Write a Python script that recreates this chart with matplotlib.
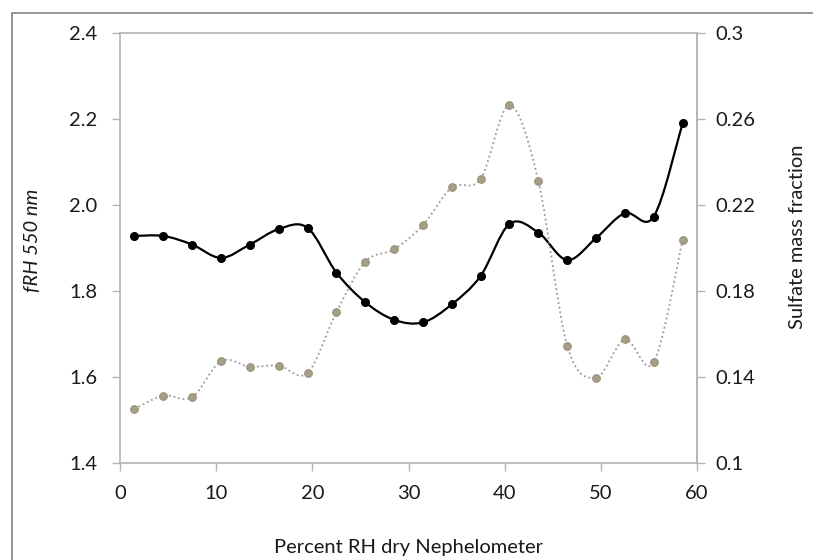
import numpy as np
import matplotlib.pyplot as plt
from matplotlib.path import Path
from matplotlib.patches import PathPatch, Rectangle

# data
rh = [1.5, 4.5, 7.5, 10.5, 13.5, 16.5, 19.5, 22.5, 25.5, 28.5,
      31.5, 34.5, 37.5, 40.5, 43.5, 46.5, 49.5, 52.5, 55.5, 58.5]
frh = [1.928, 1.928, 1.908, 1.877, 1.908, 1.944, 1.947, 1.843, 1.774, 1.733,
       1.727, 1.769, 1.835, 1.956, 1.936, 1.872, 1.923, 1.981, 1.973, 2.190]
sulfate = [0.1251, 0.1313, 0.1306, 0.1474, 0.1448, 0.1453, 0.1419, 0.1701, 0.1936, 0.1994,
           0.2106, 0.2282, 0.2321, 0.2664, 0.2312, 0.1546, 0.1397, 0.1575, 0.1468, 0.2036]

left_ticks = [1.4, 1.6, 1.8, 2.0, 2.2, 2.4]
right_ticks = [0.1, 0.14, 0.18, 0.22, 0.26, 0.3]
right_labels = ['0.1', '0.14', '0.18', '0.22', '0.26', '0.3']
x_ticks = [0, 10, 20, 30, 40, 50, 60]

FONT = 'Lato'
FS = 14.5
plt.rcParams['font.family'] = [FONT, 'DejaVu Sans']
spine_col = '#b4b4b4'
text_col = '#1a1a1a'


def smooth_path(x, y):
    # excel style smoothed line as cubic bezier segments through the points
    x = np.asarray(x, float)
    y = np.asarray(y, float)
    n = len(x)
    verts = [(x[0], y[0])]
    codes = [Path.MOVETO]
    for i in range(n - 1):
        p0 = np.array([x[max(i - 1, 0)], y[max(i - 1, 0)]])
        p1 = np.array([x[i], y[i]])
        p2 = np.array([x[i + 1], y[i + 1]])
        p3 = np.array([x[min(i + 2, n - 1)], y[min(i + 2, n - 1)]])
        c1 = p1 + (p2 - p0) / 6.0
        c2 = p2 - (p3 - p1) / 6.0
        verts += [tuple(c1), tuple(c2), tuple(p2)]
        codes += [Path.CURVE4] * 3
    return Path(verts, codes)


fig = plt.figure(figsize=(8.13, 5.6), dpi=100)
ax = fig.add_axes([120 / 813, 97 / 560, 577 / 813, 430 / 560])
ax2 = ax.twinx()

# black fRH line, left axis
ax.add_patch(PathPatch(smooth_path(rh, frh), facecolor='none', edgecolor='black',
                       lw=1.6, zorder=2))
ax.plot(rh, frh, ls='none', marker='o', ms=5.5, color='black', zorder=3)

# grey sulfate line, right axis
ax2.add_patch(PathPatch(smooth_path(rh, sulfate), facecolor='none', edgecolor='#9a9a9a',
                        lw=1.3, ls=(0, (1, 1.6)), zorder=2))
ax2.plot(rh, sulfate, ls='none', marker='o', ms=5.5, markerfacecolor='#a59f86',
         markeredgecolor='#99937a', markeredgewidth=0.8, zorder=3)

ax.set_xlim(0, 60)
ax.set_ylim(1.4, 2.4)
ax2.set_ylim(0.1, 0.3)

ax.set_xticks(x_ticks)
ax.set_yticks(left_ticks)
ax.set_yticklabels([f'{v:.1f}' for v in left_ticks])
ax2.set_yticks(right_ticks)
ax2.set_yticklabels(right_labels)

for a in (ax, ax2):
    for s in a.spines.values():
        s.set_color(spine_col)
        s.set_linewidth(1.2)
ax2.spines['left'].set_visible(False)
ax2.spines['bottom'].set_visible(False)
ax2.spines['top'].set_visible(False)

ax.tick_params(axis='y', direction='out', length=5.5, width=1.0, color=spine_col,
               labelsize=FS, labelcolor=text_col, pad=11)
ax.tick_params(axis='x', direction='out', length=6, width=1.0, color=spine_col,
               labelsize=FS, labelcolor=text_col, pad=10)
ax2.tick_params(axis='y', direction='out', length=5.5, width=1.0, color=spine_col,
                labelsize=FS, labelcolor=text_col, pad=8)

ax.set_xlabel('Percent RH dry Nephelometer', fontsize=FS, color=text_col, va='center')
ax.xaxis.set_label_coords(0.5, (463 - 547) / 430)
ax.set_ylabel('fRH 550 nm', fontsize=FS, color=text_col, style='italic',
              va='center', ha='center')
ax.yaxis.set_label_coords((33 - 120) / 577, (463 - 240) / 430)
ax2.set_ylabel('Sulfate mass fraction', fontsize=FS, color=text_col,
               va='center', ha='center', rotation=90)
ax2.yaxis.set_label_coords((797 - 120) / 577, (463 - 237) / 430)

# outer chart frame, running off the right and bottom edges
fig.patches.append(Rectangle((12 / 813, -0.1), 1.0, (560 - 13) / 560 + 0.1,
                             transform=fig.transFigure, fill=False,
                             edgecolor='#8c8c8c', lw=1.3))

fig.savefig('out.png', dpi=100)
